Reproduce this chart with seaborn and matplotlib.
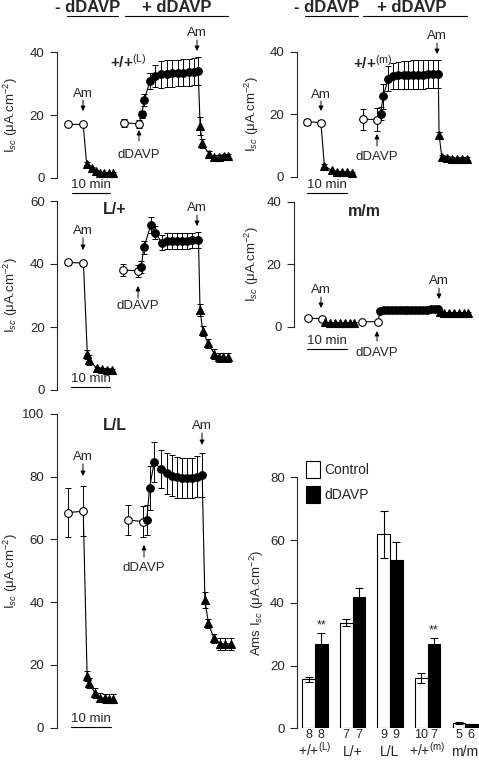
import numpy as np
import pandas as pd
import matplotlib
matplotlib.use("Agg")
import matplotlib.pyplot as plt
import matplotlib.transforms as mtransforms
from matplotlib.lines import Line2D
from matplotlib.patches import FancyArrowPatch, Patch
import seaborn as sns

# ---- data (time in minutes, Isc in uA/cm2) ----
# +/+ (L)
a_pre_t = [2.9, 6.7]
a_pre_v = [17.0, 17.0]
a_pre_e = [0.5, 0.5]
a_am1_t = [7.6, 8.9, 10.0, 11.0, 12.1, 13.3, 14.4]
a_am1_v = [4.5, 3.0, 2.2, 1.6, 1.5, 1.5, 1.5]
a_am1_e = [0.6, 0.4, 0.3, 0.3, 0.3, 0.3, 0.3]
a_ctl_t = [17.2, 21.0]
a_ctl_v = [17.5, 17.2]
a_ctl_e = [1.3, 1.2]
a_dd_t = [21.7, 22.4, 23.8, 25.1, 26.7, 28.1, 29.6, 31.1, 32.4, 33.8, 35.2, 36.2]
a_dd_v = [20.2, 24.8, 30.9, 32.3, 33.0, 33.2, 33.3, 33.4, 33.5, 33.6, 33.8, 34.0]
a_dd_e = [1.2, 1.8, 2.5, 3.5, 4.3, 4.3, 4.3, 4.3, 4.3, 4.3, 4.3, 4.5]
a_am2_t = [36.7, 37.2, 39.0, 40.3, 41.5, 42.8, 43.9]
a_am2_v = [16.5, 11.0, 7.6, 6.5, 6.5, 6.8, 6.8]
a_am2_e = [3.0, 1.5, 1.0, 0.8, 0.8, 0.8, 0.8]

# +/+ (m)
b_pre_t = [2.6, 6.2]
b_pre_v = [17.6, 17.3]
b_pre_e = [1.0, 0.8]
b_am1_t = [7.1, 9.0, 10.3, 11.5, 12.8, 14.1]
b_am1_v = [3.5, 2.0, 1.6, 1.5, 1.4, 1.3]
b_am1_e = [0.5, 0.3, 0.3, 0.3, 0.3, 0.3]
b_ctl_t = [17.1, 20.5]
b_ctl_v = [18.4, 18.3]
b_ctl_e = [3.4, 3.6]
b_dd_t = [21.5, 22.2, 23.5, 24.8, 26.1, 27.4, 28.6, 29.9, 31.2, 32.5, 33.7, 35.0, 36.3]
b_dd_v = [20.2, 25.8, 31.4, 32.2, 32.5, 32.6, 32.6, 32.7, 32.7, 32.7, 32.8, 32.8, 32.8]
b_dd_e = [2.0, 4.0, 4.0, 4.2, 4.3, 4.4, 4.4, 4.5, 4.5, 4.5, 4.5, 4.5, 4.5]
b_am2_t = [36.5, 37.2, 38.5, 39.7, 41.0, 42.3, 43.6]
b_am2_v = [13.5, 6.4, 6.0, 5.8, 5.6, 5.7, 5.8]
b_am2_e = [0.8, 0.6, 0.5, 0.5, 0.5, 0.5, 0.5]

# L/+
c_pre_t = [2.8, 6.7]
c_pre_v = [40.5, 40.3]
c_pre_e = [0.8, 0.8]
c_am1_t = [7.7, 8.2, 10.1, 11.4, 12.7, 14.1]
c_am1_v = [11.3, 9.5, 6.9, 6.6, 6.5, 6.3]
c_am1_e = [1.5, 1.5, 0.5, 0.5, 0.5, 0.5]
c_ctl_t = [16.9, 20.8]
c_ctl_v = [38.1, 37.8]
c_ctl_e = [2.0, 2.0]
c_dd_t = [21.5, 22.2, 24.0, 25.1, 26.8, 28.1, 29.3, 30.6, 31.9, 33.2, 34.5, 36.2]
c_dd_v = [39.0, 45.3, 52.4, 50.0, 46.8, 47.3, 47.3, 47.3, 47.3, 47.3, 47.5, 47.7]
c_dd_e = [2.0, 2.0, 2.5, 2.0, 2.5, 2.5, 2.5, 2.5, 2.5, 2.5, 2.5, 2.5]
c_am2_t = [36.6, 37.3, 38.7, 40.3, 41.5, 42.6, 43.8]
c_am2_v = [25.4, 18.8, 14.8, 11.4, 10.4, 10.4, 10.4]
c_am2_e = [2.0, 1.5, 1.5, 1.5, 1.5, 1.5, 1.5]

# m/m
d_pre_t = [3.5, 7.1]
d_pre_v = [2.7, 2.6]
d_pre_e = [0.3, 0.3]
d_am1_t = [7.9, 9.2, 10.5, 11.8, 13.1, 14.4, 15.4]
d_am1_v = [1.4, 1.3, 1.2, 1.2, 1.2, 1.2, 1.2]
d_am1_e = [0.2, 0.2, 0.2, 0.2, 0.2, 0.2, 0.2]
d_ctl_t = [17.5, 21.5]
d_ctl_v = [1.6, 1.6]
d_ctl_e = [0.3, 0.3]
d_dd_t = [22.1, 23.1, 24.1, 25.1, 26.1, 27.1, 28.1, 29.1, 30.1, 31.1, 32.1, 33.1, 34.1, 35.1, 36.1, 36.9]
d_dd_v = [5.0, 5.2, 5.3, 5.3, 5.3, 5.3, 5.4, 5.4, 5.4, 5.4, 5.5, 5.5, 5.5, 5.6, 5.7, 5.8]
d_dd_e = [0.4] * 16
d_am2_t = [37.4, 38.5, 39.7, 41.0, 42.3, 43.6, 44.6]
d_am2_v = [4.8, 4.5, 4.4, 4.4, 4.3, 4.3, 4.3]
d_am2_e = [0.3] * 7

# L/L
e_pre_t = [3.0, 6.8]
e_pre_v = [68.6, 69.0]
e_pre_e = [7.7, 8.0]
e_am1_t = [7.8, 8.4, 9.8, 11.1, 12.4, 13.4, 14.5]
e_am1_v = [16.5, 14.2, 11.0, 9.6, 9.4, 9.3, 9.3]
e_am1_e = [1.7, 1.5, 1.5, 1.5, 1.5, 1.5, 1.5]
e_ctl_t = [18.4, 22.2]
e_ctl_v = [66.2, 65.7]
e_ctl_e = [4.7, 5.0]
e_dd_t = [23.1, 23.8, 25.0, 26.7, 28.2, 29.5, 30.8, 32.1, 33.3, 34.6, 35.9, 37.3]
e_dd_v = [66.2, 76.4, 84.7, 82.5, 81.1, 80.3, 79.8, 79.6, 79.6, 79.6, 80.0, 80.7]
e_dd_e = [4.8, 7.0, 6.5, 6.0, 6.5, 6.5, 6.5, 6.5, 6.5, 6.5, 6.5, 7.0]
e_am2_t = [38.0, 38.9, 40.3, 41.9, 43.2, 44.6]
e_am2_v = [40.7, 33.3, 28.5, 26.7, 26.7, 26.7]
e_am2_e = [2.5, 1.5, 1.5, 2.0, 2.0, 2.0]

# summary bars
genotypes = ['+/+$^{\\rm (L)}$', 'L/+', 'L/L', '+/+$^{\\rm (m)}$', 'm/m']
ctrl_vals = [15.6, 33.7, 61.9, 16.0, 1.6]
ctrl_errs = [0.85, 1.1, 7.5, 1.6, 0.3]
ddavp_vals = [26.9, 41.8, 53.7, 26.9, 1.3]
ddavp_errs = [3.6, 2.9, 5.6, 1.8, 0.2]
n_ctrl = [8, 7, 9, 10, 5]
n_ddavp = [8, 7, 9, 7, 6]
signif = ['**', '', '', '**', '']

# ---- style ----
sns.set_style("ticks")
plt.rcParams['font.family'] = ['Liberation Sans', 'DejaVu Sans']
plt.rcParams['mathtext.fontset'] = 'custom'
plt.rcParams['mathtext.rm'] = 'Liberation Sans'
plt.rcParams['mathtext.it'] = 'Liberation Sans:italic'
plt.rcParams['mathtext.bf'] = 'Liberation Sans:bold'

W, H = 479, 761
PX_MIN = 3.9  # pixels per minute
fig = plt.figure(figsize=(W / 100, H / 100), dpi=100)

ISC = 'I$_{sc}$ (\u03bcA.cm$^{-2}$)'


def add_panel(left, top, right, bottom):
    return fig.add_axes([left / W, 1 - bottom / H, (right - left) / W, (bottom - top) / H])


def note(s, x, y, **kw):
    kw.setdefault('fontsize', 9.5)
    kw.setdefault('ha', 'center')
    kw.setdefault('va', 'center')
    fig.text(x / W, 1 - y / H, s, **kw)


def arrow(x, y0, y1):
    fig.add_artist(FancyArrowPatch((x / W, 1 - y0 / H), (x / W, 1 - y1 / H),
                                   transform=fig.transFigure, arrowstyle='-|>',
                                   mutation_scale=7, lw=0.7, color='k',
                                   shrinkA=0, shrinkB=0))


def hline(x0, x1, y):
    fig.add_artist(Line2D([x0 / W, x1 / W], [1 - y / H, 1 - y / H],
                          transform=fig.transFigure, color='k', lw=0.8))


def style_axis(ax, ymax, step, label_x):
    ax.set_ylim(0, ymax)
    ax.set_yticks(np.arange(0, ymax + 1, step))
    ax.set_xticks([])
    sns.despine(ax=ax, bottom=True)
    ax.spines['left'].set_linewidth(0.8)
    ax.tick_params(axis='y', length=5, width=0.8, pad=4, labelsize=9.5)
    ax.set_ylabel(ISC, fontsize=9.5)
    ax.yaxis.set_label_coords(label_x, 0.5)


def draw_trace(ax, pre, am1, ctl, dd, am2):
    ms = 5.5
    for segs in ([pre, am1], [ctl, dd, am2]):
        t = np.concatenate([s[0] for s in segs])
        v = np.concatenate([s[1] for s in segs])
        sns.lineplot(x=t, y=v, ax=ax, color='k', lw=0.8, estimator=None, sort=False)
    for (t, v, e), mk, fc in [(pre, 'o', 'white'), (am1, '^', 'k'), (ctl, 'o', 'white'),
                              (dd, 'o', 'k'), (am2, '^', 'k')]:
        ax.errorbar(t, v, yerr=e, fmt='none', ecolor='k', elinewidth=0.7,
                    capsize=2.5, capthick=0.7, clip_on=False, zorder=3)
        ax.plot(t, v, ls='none', marker=mk, ms=ms, mfc=fc, mec='k', mew=0.8,
                clip_on=False, zorder=4)


panels = [
    # left, top, right, bottom, ymax, step, label right edge px, data
    (57, 52.3, 235, 177.7, 40, 20, 20,
     ((a_pre_t, a_pre_v, a_pre_e), (a_am1_t, a_am1_v, a_am1_e), (a_ctl_t, a_ctl_v, a_ctl_e),
      (a_dd_t, a_dd_v, a_dd_e), (a_am2_t, a_am2_v, a_am2_e))),
    (296.7, 51.7, 475, 176.7, 40, 20, 261,
     ((b_pre_t, b_pre_v, b_pre_e), (b_am1_t, b_am1_v, b_am1_e), (b_ctl_t, b_ctl_v, b_ctl_e),
      (b_dd_t, b_dd_v, b_dd_e), (b_am2_t, b_am2_v, b_am2_e))),
    (57.3, 201, 235, 390, 60, 20, 20,
     ((c_pre_t, c_pre_v, c_pre_e), (c_am1_t, c_am1_v, c_am1_e), (c_ctl_t, c_ctl_v, c_ctl_e),
      (c_dd_t, c_dd_v, c_dd_e), (c_am2_t, c_am2_v, c_am2_e))),
    (294, 201.7, 475, 326.7, 40, 20, 261,
     ((d_pre_t, d_pre_v, d_pre_e), (d_am1_t, d_am1_v, d_am1_e), (d_ctl_t, d_ctl_v, d_ctl_e),
      (d_dd_t, d_dd_v, d_dd_e), (d_am2_t, d_am2_v, d_am2_e))),
    (56.7, 414, 235, 727.7, 100, 20, 20,
     ((e_pre_t, e_pre_v, e_pre_e), (e_am1_t, e_am1_v, e_am1_e), (e_ctl_t, e_ctl_v, e_ctl_e),
      (e_dd_t, e_dd_v, e_dd_e), (e_am2_t, e_am2_v, e_am2_e))),
]

for left, top, right, bottom, ymax, step, lab_px, data in panels:
    ax = add_panel(left, top, right, bottom)
    ax.set_xlim(0, (right - left) / PX_MIN)
    draw_trace(ax, *data)
    style_axis(ax, ymax, step, (lab_px - left) / (right - left))

# ---- annotations (pixel positions) ----
# headers
for x_minus, ul, x_plus, pl in [(88, (67, 118), 177, (125, 228)),
                                 (327, (305, 358), 412, (363, 467))]:
    note('- dDAVP', x_minus, 8, fontsize=12, fontweight='bold')
    hline(ul[0], ul[1], 15.5)
    note('+ dDAVP', x_plus, 8, fontsize=12, fontweight='bold')
    hline(pl[0], pl[1], 15.5)

# genotype labels
note('+/+$^{\\rm (L)}$', 110, 62, fontsize=11, fontweight='bold', ha='left')
note('+/+$^{\\rm (m)}$', 353, 63, fontsize=11, fontweight='bold', ha='left')
note('L/+', 103, 210, fontsize=11.5, fontweight='bold', ha='left')
note('m/m', 348, 212, fontsize=11.5, fontweight='bold', ha='left')
note('L/L', 103, 426, fontsize=11.5, fontweight='bold', ha='left')

# Am arrows: x, text y, arrow tail, arrow tip
for x, ty, y0, y1 in [(83, 94, 100, 111), (197, 33, 40, 51),
                      (321, 95, 101, 111), (437, 36, 43, 54),
                      (83, 231, 238, 250), (197, 208, 215, 226),
                      (321, 290, 297, 308), (439, 281, 288, 299),
                      (83, 457, 464, 476), (202, 426, 433, 445)]:
    note('Am', x, ty)
    arrow(x, y0, y1)

# dDAVP arrows: x, arrow tail, arrow tip, text y
for x, y0, y1, ty in [(139, 141, 130, 155), (377, 146, 134, 157),
                      (138, 298, 286, 306), (377, 341, 331, 353),
                      (144, 557, 545, 568)]:
    arrow(x, y0, y1)
    note('dDAVP', x, ty)

# 10 min scale bars
for x0, x1, y in [(71.7, 110, 192.5), (306.7, 346.7, 192.5), (71, 110, 387),
                  (306.7, 346.7, 348.5), (71, 111, 727)]:
    hline(x0, x1, y)
    note('10 min', (x0 + x1) / 2, y - 1.5, va='bottom')

# ---- summary bar chart ----
df = pd.DataFrame({
    'genotype': genotypes * 2,
    'cond': ['Control'] * 5 + ['dDAVP'] * 5,
    'value': ctrl_vals + ddavp_vals,
})
axb = add_panel(297.3, 477.3, 479, 728.3)
sns.barplot(data=df, x='genotype', y='value', hue='cond', hue_order=['Control', 'dDAVP'],
            palette={'Control': 'white', 'dDAVP': 'black'}, edgecolor='black',
            linewidth=0.8, width=0.667, errorbar=None, legend=False, ax=axb)
axb.set_xlim(-0.472, 4.373)
axb.set_ylim(0, 80)
axb.set_yticks([0, 20, 40, 60, 80])
sns.despine(ax=axb, bottom=True)
axb.spines['left'].set_linewidth(0.8)
axb.tick_params(axis='y', length=5, width=0.8, pad=4, labelsize=9.5)
axb.tick_params(axis='x', length=0, labelbottom=False)
axb.set_xlabel('')
axb.set_ylabel('Ams ' + ISC, fontsize=9.5)
axb.yaxis.set_label_coords((266 - 297.3) / (479 - 297.3), 0.5)

blend = mtransforms.blended_transform_factory(axb.transData, axb.transAxes)
for cont, errs, ns in zip(axb.containers, [ctrl_errs, ddavp_errs], [n_ctrl, n_ddavp]):
    for bar, err, n in zip(cont, errs, ns):
        xc = bar.get_x() + bar.get_width() / 2
        axb.errorbar(xc, bar.get_height(), yerr=err, fmt='none', ecolor='k',
                     elinewidth=0.8, capsize=3, capthick=0.8, zorder=5)
        axb.text(xc, -0.027, str(n), transform=blend, ha='center', va='center', fontsize=9)
for bar, err, s in zip(axb.containers[1], ddavp_errs, signif):
    if s:
        axb.annotate(s, (bar.get_x() + bar.get_width() / 2, bar.get_height() + err),
                     xytext=(0, 1), textcoords='offset points', ha='center', va='bottom',
                     fontsize=9)
for i, g in enumerate(genotypes):
    axb.text(i, -(756 - 728.3) / (728.3 - 477.3), g, transform=blend,
             ha='center', va='baseline', fontsize=10)

axb.legend(handles=[Patch(facecolor='white', edgecolor='black', lw=0.8, label='Control'),
                    Patch(facecolor='black', edgecolor='black', lw=0.8, label='dDAVP')],
           loc='upper left', bbox_to_anchor=((306 - 297.3) / 181.7, 1.065), frameon=False,
           handlelength=1.0, handleheight=1.5, handletextpad=0.3, labelspacing=0.6,
           fontsize=10, borderaxespad=0, borderpad=0)

fig.savefig('out.png', dpi=100)
